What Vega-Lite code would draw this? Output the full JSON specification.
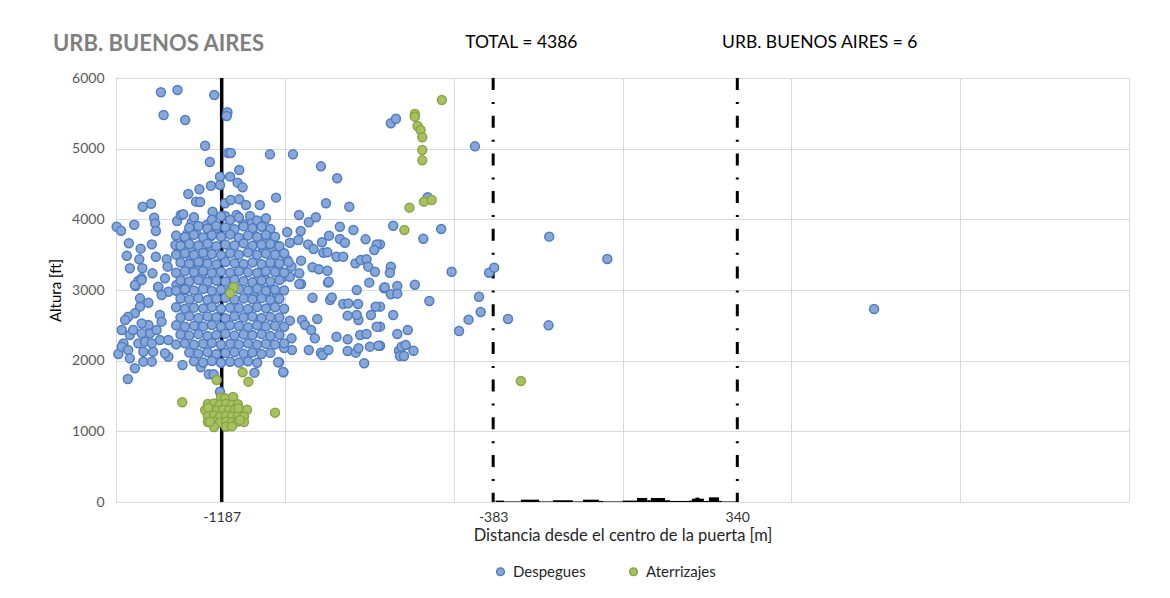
{
"$schema": "https://vega.github.io/schema/vega-lite/v6.json",
"width": 1013, "height": 424,
"autosize": {"type": "none"},
"padding": {"left": 116, "top": 78, "right": 41, "bottom": 96},
"background": "white",
"title": {"text": "URB. BUENOS AIRES", "anchor": "start", "frame": "group", "dx": -63, "dy": 39, "offset": 0, "baseline": "alphabetic", "font": "Lato", "fontSize": 22, "fontWeight": "bold", "color": "#7F7F7F"},
"config": {"view": {"stroke": "#D9D9D9"}, "font": "Lato"},
"datasets": {
"bars": [
{"a":-376,"b":-351,"h":20},{"a":-351,"b":-301,"h":8},{"a":-301,"b":-247,"h":33},{"a":-247,"b":-241,"h":10},{"a":-241,"b":-206,"h":8},{"a":-206,"b":-147,"h":25},{"a":-147,"b":-117,"h":8},{"a":-117,"b":-70,"h":33},{"a":-70,"b":-57,"h":15},{"a":-57,"b":0,"h":8},{"a":0,"b":43,"h":20},{"a":43,"b":73,"h":57},{"a":73,"b":84,"h":25},{"a":84,"b":126,"h":57},{"a":126,"b":141,"h":25},{"a":141,"b":197,"h":15},{"a":197,"b":206,"h":20},{"a":206,"b":241,"h":47},{"a":216,"b":228,"h":62},{"a":241,"b":256,"h":15},{"a":256,"b":286,"h":66},{"a":286,"b":295,"h":15},{"a":295,"b":336,"h":8}
],
"notes": [{"x":-466,"y":6495,"t":"TOTAL = 4386"},{"x":295,"y":6495,"t":"URB. BUENOS AIRES = 6"}],
"dep": [
{"x":-1367,"y":5798},{"x":-1318,"y":5830},{"x":-1209,"y":5759},{"x":-1359,"y":5476},{"x":-1295,"y":5406},{"x":-1170,"y":5515},{"x":-1172,"y":5462},{"x":-1236,"y":5042},{"x":-1222,"y":4811},{"x":-1168,"y":4939},{"x":-1160,"y":4939},{"x":-1044,"y":4920},{"x":-976,"y":4920},{"x":-893,"y":4750},{"x":-845,"y":4581},{"x":-686,"y":5359},{"x":-671,"y":5424},{"x":-1026,"y":4307},{"x":-878,"y":4227},{"x":-809,"y":4179},{"x":-679,"y":3910},{"x":-537,"y":3863},{"x":-590,"y":3726},{"x":-506,"y":3259},{"x":-577,"y":4312},{"x":-437,"y":5033},{"x":-217,"y":3755},{"x":-45,"y":3439},{"x":-686,"y":3330},{"x":-689,"y":3245},{"x":-395,"y":3245},{"x":-380,"y":3316},{"x":-718,"y":3646},{"x":-706,"y":3024},{"x":-667,"y":3057},{"x":-686,"y":2939},{"x":-667,"y":2948},{"x":-615,"y":3075},{"x":-718,"y":2764},{"x":-679,"y":2646},{"x":-572,"y":2844},{"x":-425,"y":2905},{"x":-420,"y":2689},{"x":-456,"y":2580},{"x":-484,"y":2420},{"x":-339,"y":2590},{"x":-219,"y":2500},{"x":-718,"y":2481},{"x":-667,"y":2377},{"x":-636,"y":2434},{"x":-718,"y":2212},{"x":-662,"y":2141},{"x":-654,"y":2198},{"x":-642,"y":2222},{"x":-619,"y":2141},{"x":-659,"y":2066},{"x":-647,"y":2066},{"x":745,"y":2731},
{"x":-1192,"y":1561},{"x":-1090,"y":1830},{"x":-1004,"y":1835},{"x":-1465,"y":1740},{"x":-1303,"y":1939},{"x":-1249,"y":1906},{"x":-1225,"y":1807},{"x":-1211,"y":1807},{"x":-1017,"y":1977},
{"x":-952,"y":3085},{"x":-872,"y":3104},{"x":-787,"y":3000},{"x":-750,"y":3104},{"x":-704,"y":3038},{"x":-918,"y":2891},{"x":-866,"y":2858},{"x":-861,"y":2896},{"x":-827,"y":2802},{"x":-812,"y":2811},{"x":-783,"y":2802},{"x":-731,"y":2764},{"x":-745,"y":2646},{"x":-814,"y":2637},{"x":-782,"y":2575},{"x":-787,"y":2646},{"x":-904,"y":2590},{"x":-949,"y":2575},{"x":-940,"y":2505},{"x":-922,"y":2434},{"x":-911,"y":2316},{"x":-847,"y":2339},{"x":-814,"y":2302},{"x":-777,"y":2363},{"x":-758,"y":2377},{"x":-728,"y":2481},{"x":-765,"y":1963},{"x":-723,"y":2212},{"x":-748,"y":2198},{"x":-814,"y":2137},{"x":-790,"y":2113},{"x":-782,"y":2175},{"x":-929,"y":2151},{"x":-893,"y":2113},{"x":-888,"y":2080},{"x":-871,"y":2151},{"x":-979,"y":2151},{"x":-1002,"y":2179},{"x":-980,"y":2316},{"x":-985,"y":2566},{"x":-1020,"y":1977},{"x":-1005,"y":1840},
{"x":-958,"y":4061},{"x":-929,"y":3958},{"x":-908,"y":4029},{"x":-993,"y":3821},{"x":-953,"y":3835},{"x":-837,"y":3896},{"x":-797,"y":3849},{"x":-985,"y":3669},{"x":-960,"y":3708},{"x":-931,"y":3646},{"x":-915,"y":3580},{"x":-890,"y":3675},{"x":-869,"y":3769},{"x":-837,"y":3721},{"x":-822,"y":3669},{"x":-761,"y":3717},{"x":-728,"y":3646},{"x":-735,"y":3566},{"x":-886,"y":3528},{"x":-874,"y":3533},{"x":-847,"y":3471},{"x":-827,"y":3471},{"x":-791,"y":3377},{"x":-775,"y":3424},{"x":-758,"y":3434},{"x":-753,"y":3330},{"x":-733,"y":3259},{"x":-952,"y":3415},{"x":-918,"y":3321},{"x":-899,"y":3293},{"x":-874,"y":3273},{"x":-870,"y":3118},
{"x":-1498,"y":3896},{"x":-1485,"y":3839},{"x":-1446,"y":3924},{"x":-1421,"y":4179},{"x":-1396,"y":4221},{"x":-1387,"y":4023},{"x":-1384,"y":3943},{"x":-1382,"y":3835},{"x":-1462,"y":3661},{"x":-1468,"y":3485},{"x":-1427,"y":3585},{"x":-1394,"y":3646},{"x":-1459,"y":3307},{"x":-1431,"y":3434},{"x":-1422,"y":3307},{"x":-1392,"y":3236},{"x":-1382,"y":3471},{"x":-1442,"y":3057},{"x":-1434,"y":3127},{"x":-1424,"y":3165},{"x":-1375,"y":3033},{"x":-1355,"y":3165},{"x":-1350,"y":3434},{"x":-1347,"y":3330},{"x":-1324,"y":3637},{"x":-1306,"y":3637},{"x":-1288,"y":3684},{"x":-1296,"y":3731},{"x":-1319,"y":3976},{"x":-1308,"y":4061},{"x":-1301,"y":4071},{"x":-1274,"y":3958},{"x":-1286,"y":4358},{"x":-1263,"y":4250},{"x":-1251,"y":4245},{"x":-1253,"y":4425},{"x":-1219,"y":4476},{"x":-1192,"y":4604},{"x":-1162,"y":4604},{"x":-1140,"y":4519},{"x":-1125,"y":4453},{"x":-1135,"y":4698},{"x":-1192,"y":4486},{"x":-1214,"y":4108},{"x":-1177,"y":4227},{"x":-1160,"y":4274},{"x":-1135,"y":4283},{"x":-1115,"y":4203},{"x":-1074,"y":4203},{"x":-1103,"y":4047},{"x":-1232,"y":3920},{"x":-1222,"y":3754},{"x":-1202,"y":3873},{"x":-1177,"y":4047},{"x":-1143,"y":4061},{"x":-1123,"y":3934},{"x":-1098,"y":3943},{"x":-1095,"y":3802},{"x":-1061,"y":3920},{"x":-1288,"y":3802},{"x":-1263,"y":3802},{"x":-1276,"y":3953},{"x":-1074,"y":3708},{"x":-1054,"y":3708},{"x":-1020,"y":3623},{"x":-1064,"y":3576},{"x":-1039,"y":3576},{"x":-1278,"y":3542},{"x":-1278,"y":3434},{"x":-1276,"y":3330},{"x":-1239,"y":3448},{"x":-1254,"y":3330},{"x":-1222,"y":3613},{"x":-1229,"y":3471},{"x":-1306,"y":3127},{"x":-1321,"y":3071},{"x":-1296,"y":3000},{"x":-1266,"y":3188},{"x":-1243,"y":3236},{"x":-1005,"y":3519},{"x":-993,"y":3424},{"x":-980,"y":3330},{"x":-1020,"y":3307},{"x":-1005,"y":3188},{"x":-985,"y":3188},{"x":-957,"y":3236},{"x":-957,"y":3085},{"x":-1024,"y":2953},{"x":-1049,"y":3000},{"x":-1074,"y":3047},{"x":-1093,"y":2953},{"x":-1059,"y":3165},
{"x":-1429,"y":2882},{"x":-1404,"y":2820},{"x":-1429,"y":2764},{"x":-1444,"y":2670},{"x":-1464,"y":2622},{"x":-1473,"y":2575},{"x":-1483,"y":2434},{"x":-1459,"y":2363},{"x":-1478,"y":2245},{"x":-1493,"y":2094},{"x":-1483,"y":2198},{"x":-1464,"y":2151},{"x":-1459,"y":2033},{"x":-1444,"y":1892},{"x":-1419,"y":1986},{"x":-1394,"y":1986},{"x":-1390,"y":2127},{"x":-1419,"y":2127},{"x":-1434,"y":2245},{"x":-1414,"y":2269},{"x":-1399,"y":2387},{"x":-1404,"y":2505},{"x":-1424,"y":2528},{"x":-1370,"y":2646},{"x":-1365,"y":2552},{"x":-1380,"y":2434},{"x":-1370,"y":2292},{"x":-1345,"y":2292},{"x":-1345,"y":2056},{"x":-1355,"y":2104},{"x":-1394,"y":2245},{"x":-1449,"y":2434},{"x":-1424,"y":2387},{"x":-1444,"y":3071},{"x":-1424,"y":3141},{"x":-1375,"y":3047},{"x":-1345,"y":2976},{"x":-1365,"y":2929},
{"x":-1269,"y":4030},{"x":-1216,"y":3995},{"x":-1189,"y":4045},{"x":-1162,"y":3990},{"x":-1136,"y":4025},{"x":-1082,"y":3985},{"x":-1056,"y":4015},
{"x":-1283,"y":3880},{"x":-1256,"y":3905},{"x":-1229,"y":3870},{"x":-1203,"y":3910},{"x":-1176,"y":3885},{"x":-1149,"y":3860},{"x":-1122,"y":3900},{"x":-1096,"y":3875},{"x":-1069,"y":3895},{"x":-1043,"y":3865},
{"x":-1322,"y":3770},{"x":-1296,"y":3750},{"x":-1269,"y":3780},{"x":-1242,"y":3745},{"x":-1216,"y":3775},{"x":-1189,"y":3755},{"x":-1162,"y":3785},{"x":-1136,"y":3740},{"x":-1109,"y":3770},{"x":-1082,"y":3750},{"x":-1056,"y":3780},{"x":-1029,"y":3755},
{"x":-1309,"y":3625},{"x":-1283,"y":3650},{"x":-1256,"y":3630},{"x":-1229,"y":3655},{"x":-1203,"y":3620},{"x":-1176,"y":3645},{"x":-1149,"y":3630},{"x":-1122,"y":3660},{"x":-1096,"y":3625},{"x":-1069,"y":3640},{"x":-1043,"y":3650},{"x":-1016,"y":3620},
{"x":-1322,"y":3500},{"x":-1296,"y":3520},{"x":-1269,"y":3495},{"x":-1242,"y":3525},{"x":-1216,"y":3505},{"x":-1189,"y":3490},{"x":-1162,"y":3520},{"x":-1136,"y":3500},{"x":-1109,"y":3530},{"x":-1082,"y":3495},{"x":-1056,"y":3515},{"x":-1029,"y":3500},{"x":-1002,"y":3520},
{"x":-1309,"y":3390},{"x":-1283,"y":3370},{"x":-1256,"y":3395},{"x":-1229,"y":3375},{"x":-1203,"y":3365},{"x":-1176,"y":3395},{"x":-1149,"y":3380},{"x":-1122,"y":3370},{"x":-1096,"y":3390},{"x":-1069,"y":3365},{"x":-1043,"y":3385},{"x":-1016,"y":3375},{"x":-989,"y":3395},
{"x":-1322,"y":3245},{"x":-1296,"y":3265},{"x":-1269,"y":3250},{"x":-1242,"y":3270},{"x":-1216,"y":3240},{"x":-1189,"y":3260},{"x":-1162,"y":3245},{"x":-1136,"y":3265},{"x":-1109,"y":3250},{"x":-1082,"y":3240},{"x":-1056,"y":3265},{"x":-1029,"y":3255},{"x":-1002,"y":3245},
{"x":-1309,"y":3135},{"x":-1283,"y":3120},{"x":-1256,"y":3140},{"x":-1229,"y":3115},{"x":-1203,"y":3130},{"x":-1176,"y":3120},{"x":-1149,"y":3145},{"x":-1122,"y":3125},{"x":-1096,"y":3110},{"x":-1069,"y":3135},{"x":-1043,"y":3120},{"x":-1016,"y":3140},
{"x":-1322,"y":2990},{"x":-1296,"y":3010},{"x":-1269,"y":2995},{"x":-1242,"y":3015},{"x":-1216,"y":2985},{"x":-1189,"y":3005},{"x":-1162,"y":2990},{"x":-1136,"y":3010},{"x":-1109,"y":2995},{"x":-1082,"y":3020},{"x":-1056,"y":2985},{"x":-1029,"y":3005},{"x":-1002,"y":2995},
{"x":-1309,"y":2880},{"x":-1283,"y":2865},{"x":-1256,"y":2885},{"x":-1229,"y":2860},{"x":-1203,"y":2875},{"x":-1176,"y":2890},{"x":-1149,"y":2865},{"x":-1122,"y":2880},{"x":-1096,"y":2870},{"x":-1069,"y":2885},{"x":-1043,"y":2860},{"x":-1016,"y":2875},
{"x":-1322,"y":2755},{"x":-1296,"y":2735},{"x":-1269,"y":2750},{"x":-1242,"y":2740},{"x":-1216,"y":2760},{"x":-1189,"y":2735},{"x":-1162,"y":2750},{"x":-1136,"y":2745},{"x":-1109,"y":2730},{"x":-1082,"y":2760},{"x":-1056,"y":2740},{"x":-1029,"y":2755},{"x":-1002,"y":2735},
{"x":-1309,"y":2610},{"x":-1283,"y":2630},{"x":-1256,"y":2605},{"x":-1229,"y":2625},{"x":-1203,"y":2615},{"x":-1176,"y":2600},{"x":-1149,"y":2630},{"x":-1122,"y":2610},{"x":-1096,"y":2625},{"x":-1069,"y":2605},{"x":-1043,"y":2620},{"x":-1016,"y":2610},
{"x":-1322,"y":2500},{"x":-1296,"y":2480},{"x":-1269,"y":2495},{"x":-1242,"y":2485},{"x":-1216,"y":2505},{"x":-1189,"y":2480},{"x":-1162,"y":2500},{"x":-1136,"y":2490},{"x":-1109,"y":2475},{"x":-1082,"y":2500},{"x":-1056,"y":2485},{"x":-1029,"y":2495},{"x":-1002,"y":2480},
{"x":-1309,"y":2370},{"x":-1283,"y":2355},{"x":-1256,"y":2375},{"x":-1229,"y":2350},{"x":-1203,"y":2365},{"x":-1176,"y":2380},{"x":-1149,"y":2355},{"x":-1122,"y":2370},{"x":-1096,"y":2360},{"x":-1069,"y":2375},{"x":-1043,"y":2350},{"x":-1016,"y":2365},
{"x":-1322,"y":2230},{"x":-1296,"y":2245},{"x":-1269,"y":2225},{"x":-1242,"y":2240},{"x":-1216,"y":2250},{"x":-1189,"y":2225},{"x":-1162,"y":2240},{"x":-1136,"y":2230},{"x":-1109,"y":2245},{"x":-1082,"y":2225},{"x":-1056,"y":2240},{"x":-1029,"y":2230},{"x":-1002,"y":2245},
{"x":-1283,"y":2115},{"x":-1256,"y":2100},{"x":-1229,"y":2120},{"x":-1203,"y":2095},{"x":-1176,"y":2110},{"x":-1149,"y":2120},{"x":-1122,"y":2100},{"x":-1096,"y":2115},{"x":-1069,"y":2095},{"x":-1043,"y":2110},
{"x":-1269,"y":1990},{"x":-1242,"y":1975},{"x":-1216,"y":1995},{"x":-1189,"y":1970},{"x":-1162,"y":1985},{"x":-1136,"y":1975},{"x":-1109,"y":1990},{"x":-1082,"y":1970}
],
"ate": [
{"x":-535,"y":5689},{"x":-615,"y":5490},{"x":-615,"y":5453},{"x":-607,"y":5321},{"x":-598,"y":5264},{"x":-593,"y":5161},{"x":-593,"y":4981},{"x":-593,"y":4835},{"x":-588,"y":4250},{"x":-565,"y":4274},{"x":-631,"y":4165},{"x":-646,"y":3849},{"x":-301,"y":1712},{"x":-1151,"y":3038},{"x":-1162,"y":2953},{"x":-1125,"y":1835},{"x":-1108,"y":1703},{"x":-1202,"y":1726},{"x":-1304,"y":1411},{"x":-1029,"y":1264},
{"x":-1189,"y":1480},{"x":-1177,"y":1470},{"x":-1153,"y":1485},
{"x":-1228,"y":1387},{"x":-1210,"y":1395},{"x":-1192,"y":1380},{"x":-1174,"y":1390},{"x":-1157,"y":1375},{"x":-1139,"y":1385},
{"x":-1236,"y":1302},{"x":-1219,"y":1310},{"x":-1201,"y":1295},{"x":-1183,"y":1305},{"x":-1166,"y":1300},{"x":-1148,"y":1310},{"x":-1130,"y":1295},{"x":-1112,"y":1305},
{"x":-1228,"y":1217},{"x":-1210,"y":1225},{"x":-1192,"y":1210},{"x":-1174,"y":1220},{"x":-1157,"y":1215},{"x":-1139,"y":1225},{"x":-1121,"y":1210},
{"x":-1228,"y":1132},{"x":-1210,"y":1140},{"x":-1192,"y":1125},{"x":-1174,"y":1135},{"x":-1157,"y":1130},{"x":-1139,"y":1140},{"x":-1121,"y":1130},
{"x":-1210,"y":1061},{"x":-1174,"y":1065},{"x":-1157,"y":1070},
{"x":-1227,"y":1335},{"x":-1138,"y":1326},{"x":-1133,"y":1160},{"x":-1222,"y":1136}
]
},
"layer": [
{"data": {"name": "bars"},
 "mark": {"type": "rect", "color": "black"},
 "encoding": {
  "x": {"field": "a", "type": "quantitative", "scale": {"domain": [-1500, 1500], "nice": false, "zero": false},
   "axis": {"title": "Distancia desde el centro de la puerta [m]", "values": [-1500,-1000,-500,0,500,1000,1500,-1187,-383,340],
    "labelExpr": "(datum.value == -1187 || datum.value == -383 || datum.value == 340) ? '' + datum.value : ''",
    "grid": true, "gridColor": "#D9D9D9",
    "gridOpacity": {"condition": {"test": "datum.value == -1187 || datum.value == -383 || datum.value == 340", "value": 0}, "value": 1},
    "domain": false, "ticks": false, "labelPadding": 8, "labelFontSize": 14, "labelColor": "#333333", "labelFont": "Lato",
    "labelOverlap": false, "labelFlush": false, "titleFont": "Lato", "titleFontSize": 16.5, "titleFontWeight": "normal", "titleColor": "#262626", "titlePadding": 3}},
  "x2": {"field": "b"},
  "y": {"field": "h", "type": "quantitative", "scale": {"domain": [0, 6000], "nice": false},
   "axis": {"title": "Altura [ft]", "values": [0,1000,2000,3000,4000,5000,6000], "format": "d", "grid": true, "gridColor": "#D9D9D9",
    "domain": false, "ticks": false, "labelPadding": 12, "labelFontSize": 14, "labelColor": "#595959", "labelFont": "Lato",
    "titleFont": "Lato", "titleFontSize": 15, "titleFontWeight": "normal", "titleColor": "#000000", "titlePadding": 8}},
  "y2": {"datum": 0}
 }},
{"data": {"values": [{"x": -1187}]},
 "mark": {"type": "rule", "color": "black", "strokeWidth": 3.5},
 "encoding": {"x": {"field": "x", "type": "quantitative"}}},
{"data": {"values": [{"x": -383}, {"x": 340}]},
 "mark": {"type": "rule", "color": "black", "strokeWidth": 3, "strokeDash": [12, 12, 2, 11.7]},
 "encoding": {"x": {"field": "x", "type": "quantitative"}}},
{"data": {"name": "dep"},
 "mark": {"type": "circle", "size": 80, "strokeWidth": 1.5, "opacity": 1},
 "encoding": {
  "x": {"field": "x", "type": "quantitative"},
  "y": {"field": "y", "type": "quantitative"},
  "fill": {"datum": "Despegues", "type": "nominal", "scale": {"domain": ["Despegues", "Aterrizajes"], "range": ["#88A6D8", "#A7C161"]},
   "legend": {"title": null, "orient": "none", "legendX": 377, "legendY": 486, "direction": "horizontal", "labelFont": "Lato", "labelFontSize": 15, "labelColor": "#262626", "symbolSize": 60, "symbolStrokeWidth": 1.5, "columnPadding": 40, "labelOffset": 5}},
  "stroke": {"datum": "Despegues", "type": "nominal", "scale": {"domain": ["Despegues", "Aterrizajes"], "range": ["#4F7DC0", "#8AA546"]},
   "legend": {"title": null, "orient": "none", "legendX": 377, "legendY": 486, "direction": "horizontal", "labelFont": "Lato", "labelFontSize": 15, "labelColor": "#262626", "symbolSize": 60, "symbolStrokeWidth": 1.5, "columnPadding": 40, "labelOffset": 5}}
 }},
{"data": {"name": "ate"},
 "mark": {"type": "circle", "size": 80, "strokeWidth": 1.5, "opacity": 1},
 "encoding": {
  "x": {"field": "x", "type": "quantitative"},
  "y": {"field": "y", "type": "quantitative"},
  "fill": {"datum": "Aterrizajes", "type": "nominal"},
  "stroke": {"datum": "Aterrizajes", "type": "nominal"}
 }},
{"data": {"name": "notes"},
 "mark": {"type": "text", "align": "left", "baseline": "middle", "font": "Lato", "fontSize": 17.5, "color": "#000000", "clip": false},
 "encoding": {"x": {"field": "x", "type": "quantitative"}, "y": {"field": "y", "type": "quantitative"}, "text": {"field": "t"}}}
]
}
